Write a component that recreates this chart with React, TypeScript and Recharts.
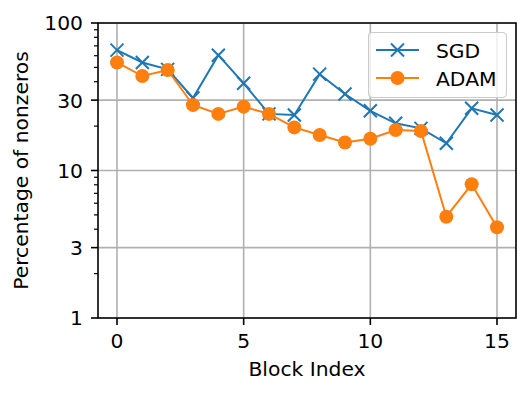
import React from 'react';
import { LineChart, Line, XAxis, YAxis, CartesianGrid, ReferenceArea, Legend } from 'recharts';

const blockIndex = [0, 1, 2, 3, 4, 5, 6, 7, 8, 9, 10, 11, 12, 13, 14, 15];
const sgdValues = [65.5, 54, 48.5, 31, 60.5, 39, 24.2, 23.8, 45, 33, 25.4, 20.9, 19.3, 15.3, 26.4, 23.8];
const adamValues = [54, 43.7, 48, 27.8, 24.2, 27.1, 24.2, 19.6, 17.4, 15.5, 16.4, 18.8, 18.5, 4.86, 8.06, 4.12];
const xTicks = [0, 5, 10, 15];
const yMajorTicks = [1, 3, 10, 30, 100];
const yMinorTicks = [2, 4, 5, 6, 7, 8, 9, 20, 40, 50, 60, 70, 80, 90];
const seriesNames = ['SGD', 'ADAM'];
const seriesColors = ['#1f77b4', '#ff7f0e'];

const data = blockIndex.map((b, i) => ({ idx: b, sgd: sgdValues[i], adam: adamValues[i] }));

const FONT = '"DejaVu Sans", sans-serif';
const FS = 20.3;

const XTick = (props: any) => {
  const { x, y, payload } = props;
  return (
    <g>
      <line x1={x} x2={x} y1={y} y2={y + 7} stroke="#000" strokeWidth={1.6} />
      <text x={x} y={y + 30} textAnchor="middle" fontFamily={FONT} fontSize={FS} fill="#000">
        {payload.value}
      </text>
    </g>
  );
};

const YTick = (props: any) => {
  const { x, y, payload } = props;
  const major = yMajorTicks.includes(payload.value);
  return (
    <g>
      <line x1={x - (major ? 7 : 4)} x2={x} y1={y} y2={y} stroke="#000" strokeWidth={major ? 1.6 : 1.2} />
      {major && (
        <text x={x - 15} y={y + 7.4} textAnchor="end" fontFamily={FONT} fontSize={FS} fill="#000">
          {payload.value}
        </text>
      )}
    </g>
  );
};

const XMark = ({ cx, cy, color, s = 6.5 }: any) => (
  <g>
    <line x1={cx - s} y1={cy - s} x2={cx + s} y2={cy + s} stroke={color} strokeWidth={2} />
    <line x1={cx - s} y1={cy + s} x2={cx + s} y2={cy - s} stroke={color} strokeWidth={2} />
  </g>
);

const renderSgdDot = (props: any) => {
  const { cx, cy, index } = props;
  return <XMark key={`sgd-${index}`} cx={cx} cy={cy} color={seriesColors[0]} />;
};

const LegendBox = () => (
  <svg width={139} height={66} style={{ display: 'block' }}>
    <rect x={0.5} y={0.5} width={138} height={65} rx={4} ry={4} fill="rgba(255,255,255,0.8)" stroke="#cccccc" strokeWidth={1.2} />
    {seriesNames.map((name, i) => {
      const cy = 18 + i * 28;
      return (
        <g key={name}>
          <line x1={8} x2={51} y1={cy} y2={cy} stroke={seriesColors[i]} strokeWidth={2} />
          {i === 0 ? (
            <XMark cx={29.5} cy={cy} color={seriesColors[0]} />
          ) : (
            <circle cx={29.5} cy={cy} r={7} fill={seriesColors[1]} />
          )}
          <text x={68} y={cy + 7.5} fontFamily={FONT} fontSize={FS} fill="#000">
            {name}
          </text>
        </g>
      );
    })}
  </svg>
);

export default function App() {
  return (
    <div style={{ position: 'fixed', left: 0, top: 0, width: 531, height: 395, background: '#fff' }}>
      <LineChart width={531} height={395} data={data} margin={{ top: 23, right: 15, bottom: 0, left: 0 }}>
        <CartesianGrid stroke="#b0b0b0" strokeWidth={1.6} horizontalValues={yMajorTicks} verticalValues={xTicks} />
        <XAxis
          dataKey="idx"
          type="number"
          domain={[-0.75, 15.75]}
          ticks={xTicks}
          interval={0}
          height={77}
          tickSize={0}
          tickMargin={0}
          tickLine={false}
          axisLine={false}
          tick={<XTick />}
          allowDataOverflow
          label={(p: any) => {
            const vb = p.viewBox;
            return (
              <text x={vb.x + vb.width / 2} y={vb.y + 58} textAnchor="middle" fontFamily={FONT} fontSize={FS} fill="#000">
                Block Index
              </text>
            );
          }}
        />
        <YAxis
          type="number"
          scale="log"
          domain={[1, 100]}
          ticks={[...yMajorTicks, ...yMinorTicks]}
          interval={0}
          width={98}
          tickSize={0}
          tickMargin={0}
          tickLine={false}
          axisLine={false}
          tick={<YTick />}
          allowDataOverflow
          label={(p: any) => {
            const vb = p.viewBox;
            const cx = vb.x + 28;
            const cy = vb.y + vb.height / 2;
            return (
              <text x={cx} y={cy} transform={`rotate(-90, ${cx}, ${cy})`} textAnchor="middle" fontFamily={FONT} fontSize={FS} fill="#000">
                Percentage of nonzeros
              </text>
            );
          }}
        />
        <Line
          dataKey="sgd"
          stroke={seriesColors[0]}
          strokeWidth={2}
          dot={renderSgdDot}
          activeDot={false}
          isAnimationActive={false}
        />
        <Line
          dataKey="adam"
          stroke={seriesColors[1]}
          strokeWidth={2}
          dot={{ r: 7, fill: seriesColors[1], stroke: 'none' }}
          activeDot={false}
          isAnimationActive={false}
        />
        <ReferenceArea x1={-0.75} x2={15.75} y1={1} y2={100} fill="none" stroke="#000" strokeWidth={1.6} ifOverflow="visible" />
        <Legend
          layout="horizontal"
          verticalAlign="middle"
          align="center"
          wrapperStyle={{ left: 368, top: 32, width: 139, height: 66 }}
          content={() => <LegendBox />}
        />
      </LineChart>
    </div>
  );
}
